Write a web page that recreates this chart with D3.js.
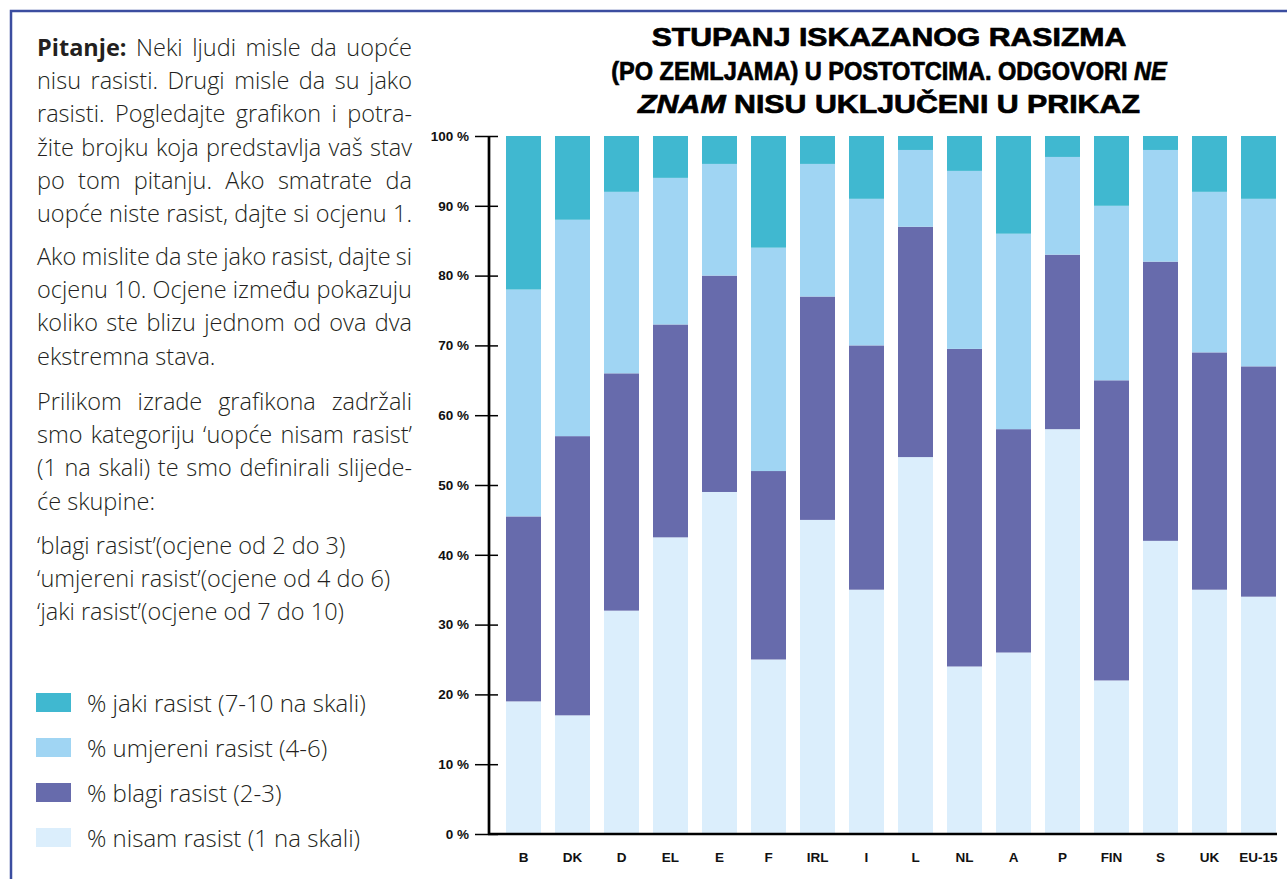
<!DOCTYPE html>
<html>
<head>
<meta charset="utf-8">
<script src="https://cdn.jsdelivr.net/npm/d3@7"></script>
<style>
  body { margin: 0; background: #fff; }
</style>
</head>
<body>
<svg id="chart" width="1287" height="879"></svg>
<script>
const countries = ["B", "DK", "D", "EL", "E", "F", "IRL", "I", "L", "NL", "A", "P", "FIN", "S", "UK", "EU-15"];
const nisam    = [19, 17, 32, 42.5, 49, 25, 45, 35, 54, 24, 26, 58, 22, 42, 35, 34];
const blagi    = [26.5, 40, 34, 30.5, 31, 27, 32, 35, 33, 45.5, 32, 25, 43, 40, 34, 33];
const umjereni = [32.5, 31, 26, 21, 16, 32, 19, 21, 11, 25.5, 28, 14, 25, 16, 23, 24];
const jaki     = [22, 12, 8, 6, 4, 16, 4, 9, 2, 5, 14, 3, 10, 2, 8, 9];

const seriesKeys = ["nisam", "blagi", "umjereni", "jaki"];
const seriesColors = ["#dbeefc", "#676bac", "#a0d5f3", "#40b8d0"];
const legendLabels = ["% jaki rasist (7-10 na skali)", "% umjereni rasist (4-6)", "% blagi rasist (2-3)", "% nisam rasist (1 na skali)"];
const legendKeys = ["jaki", "umjereni", "blagi", "nisam"];
const yTicks = [0, 10, 20, 30, 40, 50, 60, 70, 80, 90, 100];

const titleLines = [
  [["STUPANJ ISKAZANOG RASIZMA", false]],
  [["(PO ZEMLJAMA) U POSTOTCIMA. ODGOVORI ", false], ["NE", true]],
  [["ZNAM", true], [" NISU UKLJUČENI U PRIKAZ", false]]
];

// each line: [text, justified]
const paragraphs = [
  [["Pitanje: Neki ljudi misle da uopće", true],
   ["nisu rasisti. Drugi misle da su jako", true],
   ["rasisti. Pogledajte grafikon i potra-", true],
   ["žite brojku koja predstavlja vaš stav", true],
   ["po tom pitanju. Ako smatrate da", true],
   ["uopće niste rasist, dajte si ocjenu 1.", true]],
  [["Ako mislite da ste jako rasist, dajte si", true],
   ["ocjenu 10. Ocjene između pokazuju", true],
   ["koliko ste blizu jednom od ova dva", true],
   ["ekstremna stava.", false]],
  [["Prilikom izrade grafikona zadržali", true],
   ["smo kategoriju ‘uopće nisam rasist’", true],
   ["(1 na skali) te smo definirali slijede-", true],
   ["će skupine:", false]],
  [["‘blagi rasist’(ocjene od 2 do 3)", false],
   ["‘umjereni rasist’(ocjene od 4 do 6)", false],
   ["‘jaki rasist’(ocjene od 7 do 10)", false]]
];

const svg = d3.select("#chart");
const bodyFont = "'Open Sans', 'Noto Sans', sans-serif";
const bodySize = 23.5;
const textColor = "#231f20";

// frame
svg.append("path")
  .attr("d", "M11,879 L11,11 L1287,11")
  .attr("fill", "none")
  .attr("stroke", "#3b4da0")
  .attr("stroke-width", 2.5);

// left text block
const textX = 37, textW = 375;
const paraStarts = [56, 265, 410, 554];
const lineH = 33.2;

paragraphs.forEach((lines, pi) => {
  lines.forEach(([line, just], li) => {
    const y = paraStarts[pi] + li * lineH;
    if (!just) {
      svg.append("text")
        .attr("x", textX).attr("y", y)
        .attr("font-family", bodyFont)
        .attr("font-size", bodySize)
        .attr("font-weight", 300)
        .attr("fill", textColor)
        .text(line);
      return;
    }
    const words = line.split(" ");
    const nodes = words.map((w) =>
      svg.append("text")
        .attr("y", y)
        .attr("font-family", bodyFont)
        .attr("font-size", bodySize)
        .attr("font-weight", w === "Pitanje:" ? 700 : 300)
        .attr("fill", textColor)
        .text(w)
    );
    const widths = nodes.map((n) => n.node().getComputedTextLength());
    const total = d3.sum(widths);
    const space = (textW - total) / (words.length - 1);
    let x = textX;
    nodes.forEach((n, i) => {
      n.attr("x", x);
      x += widths[i] + space;
    });
  });
});

// legend
const color = d3.scaleOrdinal().domain(seriesKeys).range(seriesColors);
const legend = svg.append("g").attr("transform", "translate(36,693)");
const legendItems = legend.selectAll("g")
  .data(legendKeys)
  .enter()
  .append("g")
  .attr("transform", (d, i) => `translate(0,${i * 45})`);
legendItems.append("rect")
  .attr("width", 35)
  .attr("height", 19)
  .attr("fill", (d) => color(d));
legendItems.append("text")
  .attr("x", 51)
  .attr("y", 19)
  .attr("font-family", bodyFont)
  .attr("font-size", 24)
  .attr("font-weight", 300)
  .attr("fill", textColor)
  .text((d, i) => legendLabels[i]);

// title (fitted horizontally to the reference widths)
const titleWidths = [475, 556, 502];
const titleBase = [46, 80, 113];
titleLines.forEach((parts, i) => {
  const t = svg.append("text")
    .attr("text-anchor", "middle")
    .attr("font-family", "'Liberation Sans', Arial, sans-serif")
    .attr("font-weight", 700)
    .attr("font-size", 26)
    .attr("fill", "#000")
    .attr("stroke", "#000")
    .attr("stroke-width", 0.7);
  parts.forEach(([s, it]) => {
    t.append("tspan").attr("font-style", it ? "italic" : "normal").text(s);
  });
  const w = t.node().getComputedTextLength();
  t.attr("transform", `translate(889,${titleBase[i]}) scale(${titleWidths[i] / w},1)`);
});

// chart
const table = countries.map((c, i) => ({
  country: c, nisam: nisam[i], blagi: blagi[i], umjereni: umjereni[i], jaki: jaki[i]
}));
const stacked = d3.stack().keys(seriesKeys)(table);

const x = d3.scaleBand().domain(countries).range([499, 1283]).paddingInner(0.286).paddingOuter(0.143);
const y = d3.scaleLinear().domain([0, 100]).range([834, 136]);

svg.append("g")
  .selectAll("g")
  .data(stacked)
  .enter()
  .append("g")
  .attr("fill", (d) => color(d.key))
  .selectAll("rect")
  .data((d) => d)
  .enter()
  .append("rect")
  .attr("x", (d) => x(d.data.country))
  .attr("y", (d) => y(d[1]))
  .attr("width", x.bandwidth())
  .attr("height", (d) => y(d[0]) - y(d[1]));

// y axis
const yAxis = svg.append("g")
  .attr("transform", "translate(498,0)")
  .call(d3.axisLeft(y).tickValues(yTicks).tickSize(23).tickPadding(6).tickFormat((d) => d + " %"));
yAxis.select(".domain").remove();
yAxis.selectAll(".tick line").attr("stroke", "#000").attr("stroke-width", 1.5);
yAxis.selectAll(".tick text")
  .attr("font-family", "'Liberation Sans', Arial, sans-serif")
  .attr("font-weight", 700)
  .attr("font-size", 13.5)
  .attr("fill", "#111");

svg.append("line")
  .attr("x1", 489).attr("x2", 489)
  .attr("y1", y(100)).attr("y2", y(0))
  .attr("stroke", "#000").attr("stroke-width", 2.7);

// x axis
svg.append("line")
  .attr("x1", 488).attr("x2", 1277)
  .attr("y1", y(0)).attr("y2", y(0))
  .attr("stroke", "#000").attr("stroke-width", 2.7);

svg.append("g")
  .selectAll("text")
  .data(countries)
  .enter()
  .append("text")
  .attr("x", (d) => x(d) + x.bandwidth() / 2)
  .attr("y", 862)
  .attr("text-anchor", "middle")
  .attr("font-family", "'Liberation Sans', Arial, sans-serif")
  .attr("font-weight", 700)
  .attr("font-size", 13.5)
  .attr("fill", "#111")
  .text((d) => d);
</script>
</body>
</html>
